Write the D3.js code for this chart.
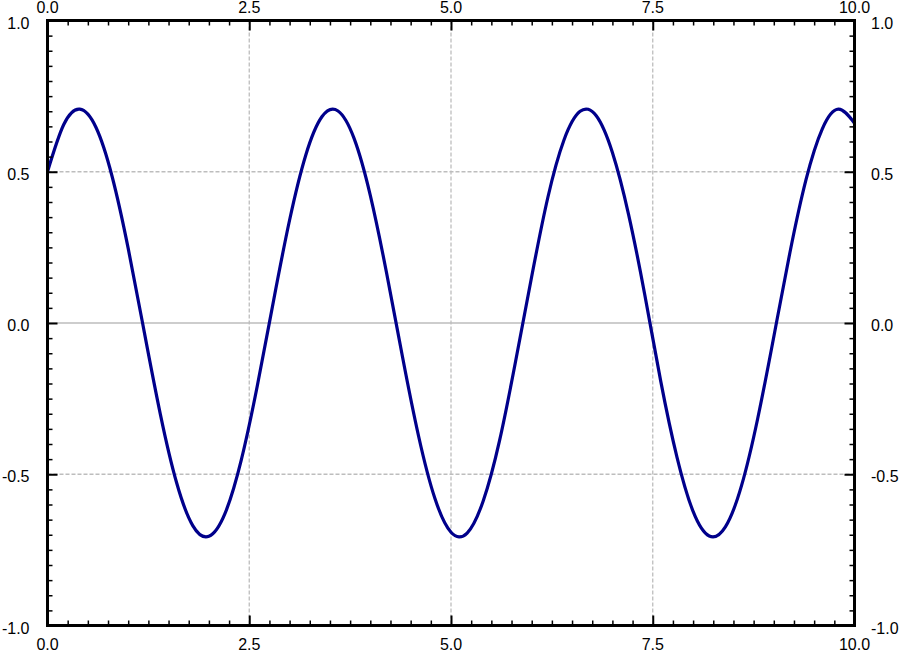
<!DOCTYPE html>
<html>
<head>
<meta charset="utf-8">
<script src="https://cdn.jsdelivr.net/npm/d3@7"></script>
<style>
  html, body { margin: 0; padding: 0; background: #fff; }
  svg { display: block; }
</style>
</head>
<body>
<svg id="chart" width="900" height="651"></svg>
<script>
// Data
const xValues = [0.0,0.2,0.4,0.6,0.8,1.0,1.2,1.4,1.6,1.8,2.0,2.2,2.4,2.6,2.8,3.0,3.2,3.4,3.6,3.8,4.0,4.2,4.4,4.6,4.8,5.0,5.2,5.4,5.6,5.8,6.0,6.2,6.4,6.6,6.8,7.0,7.2,7.4,7.6,7.8,8.0,8.2,8.4,8.6,8.8,9.0,9.2,9.4,9.6,9.8,10.0];
const yValues = [0.5000,0.6553,0.7070,0.6472,0.4852,0.2466,-0.0310,-0.3036,-0.5283,-0.6697,-0.7052,-0.6294,-0.4543,-0.2075,0.0721,0.3404,0.5548,0.6817,0.7010,0.6096,0.4220,0.1676,-0.1131,-0.3760,-0.5795,-0.6916,-0.6944,-0.5876,-0.3907,-0.1273,0.1537,0.4149,0.6051,0.6997,0.6851,0.5637,0.3593,0.0952,-0.1938,-0.4433,-0.6228,-0.7041,-0.6741,-0.5377,-0.3164,-0.0454,0.2333,0.4748,0.6412,0.7067,0.6605];
const xTicks = [0, 2.5, 5, 7.5, 10];
const yTicks = [-1, -0.5, 0, 0.5, 1];
const xTickLabels = ["0.0", "2.5", "5.0", "7.5", "10.0"];
const yTickLabels = ["-1.0", "-0.5", "0.0", "0.5", "1.0"];
const xMinorStep = 0.25;
const yMinorStep = 0.05;

const svg = d3.select("#chart");
const L = 47.5, R = 854.5, T = 20.5, B = 625.5;
const x = d3.scaleLinear().domain([0, 10]).range([L, R]);
const y = d3.scaleLinear().domain([-1, 1]).range([B, T]);

const xMinor = d3.range(0, 10 + 1e-9, xMinorStep);
const yMinor = d3.range(-1, 1 + 1e-9, yMinorStep);

// gridlines
const grid = svg.append("g");
xTicks.filter(v => v > 0 && v < 10).forEach(v => {
  grid.append("line").attr("x1", x(v)).attr("x2", x(v)).attr("y1", T).attr("y2", B)
    .attr("stroke", "#bdbdbd").attr("stroke-width", 1.3).attr("stroke-dasharray", "4,2");
});
yTicks.filter(v => v > -1 && v < 1).forEach(v => {
  const l = grid.append("line").attr("x1", L).attr("x2", R).attr("y1", y(v)).attr("y2", y(v))
    .attr("stroke", "#bdbdbd").attr("stroke-width", 1.3);
  if (v !== 0) l.attr("stroke-dasharray", "4,2");
});

// curve
svg.append("clipPath").attr("id", "clip").append("rect")
  .attr("x", L).attr("y", T).attr("width", R - L).attr("height", B - T);
const line = d3.line().x(d => x(d[0])).y(d => y(d[1])).curve(d3.curveNatural);
svg.append("path").datum(xValues.map((v, i) => [v, yValues[i]]))
  .attr("clip-path", "url(#clip)")
  .attr("d", line).attr("fill", "none").attr("stroke", "#00008b").attr("stroke-width", 3.2);

// axes (ticks inward)
const minorLen = 5, majorLen = 10;
function isMajorX(v) { return xTicks.some(t => Math.abs(t - v) < 1e-6); }
function isMajorY(v) { return yTicks.some(t => Math.abs(t - v) < 1e-6); }

const bottomAxis = d3.axisBottom(x).tickValues(xMinor).tickSizeInner(-minorLen).tickSizeOuter(0).tickFormat("");
const topAxis = d3.axisTop(x).tickValues(xMinor).tickSizeInner(-minorLen).tickSizeOuter(0).tickFormat("");
const leftAxis = d3.axisLeft(y).tickValues(yMinor).tickSizeInner(-minorLen).tickSizeOuter(0).tickFormat("");
const rightAxis = d3.axisRight(y).tickValues(yMinor).tickSizeInner(-minorLen).tickSizeOuter(0).tickFormat("");

function styleAxis(g, isMajor, sign, horiz) {
  g.select(".domain").remove();
  g.selectAll(".tick line").each(function(d) {
    const m = isMajor(d);
    const sel = d3.select(this).attr("stroke", "#000").attr("stroke-width", m ? 2 : 1.5);
    if (horiz) sel.attr("y2", sign * (m ? majorLen : minorLen));
    else sel.attr("x2", sign * (m ? majorLen : minorLen));
  });
}
styleAxis(svg.append("g").attr("transform", `translate(0,${B})`).call(bottomAxis), isMajorX, -1, true);
styleAxis(svg.append("g").attr("transform", `translate(0,${T})`).call(topAxis), isMajorX, 1, true);
styleAxis(svg.append("g").attr("transform", `translate(${L},0)`).call(leftAxis), isMajorY, 1, false);
styleAxis(svg.append("g").attr("transform", `translate(${R},0)`).call(rightAxis), isMajorY, -1, false);

// frame
svg.append("rect").attr("x", L).attr("y", T).attr("width", R - L).attr("height", B - T)
  .attr("fill", "none").attr("stroke", "#000").attr("stroke-width", 3);

// labels
const labels = svg.append("g")
  .attr("font-family", "'Liberation Sans', Arial, Helvetica, sans-serif")
  .attr("font-size", "16px").attr("fill", "#000");
xTicks.forEach((v, i) => {
  labels.append("text").attr("x", x(v)).attr("y", 12.5).attr("text-anchor", "middle").text(xTickLabels[i]);
  labels.append("text").attr("x", x(v)).attr("y", 649.5).attr("text-anchor", "middle").text(xTickLabels[i]);
});
yTicks.forEach((v, i) => {
  labels.append("text").attr("x", 29.5).attr("y", y(v) + 8).attr("text-anchor", "end").text(yTickLabels[i]);
  labels.append("text").attr("x", 871).attr("y", y(v) + 8).attr("text-anchor", "start").text(yTickLabels[i]);
});
</script>
</body>
</html>
